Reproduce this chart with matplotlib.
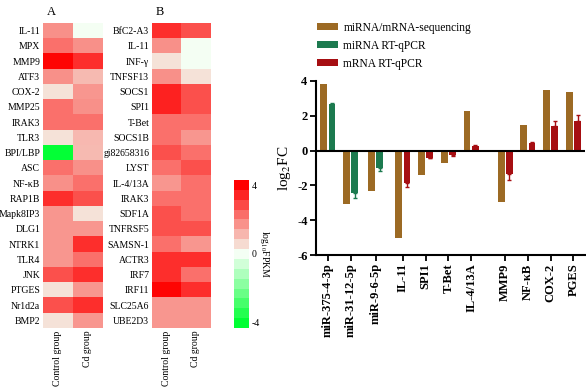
#import libraries
import matplotlib
matplotlib.use("Agg")
import matplotlib.pyplot as plt
from matplotlib.colors import LinearSegmentedColormap, Normalize
from matplotlib.cm import ScalarMappable
import numpy as np

plt.rcParams['font.family'] = ['Liberation Serif', 'DejaVu Serif']
plt.rcParams['mathtext.fontset'] = 'stix'

#heatmap data (log10 FPKM)
groups = ['Control group', 'Cd group']

genes_a = ['IL-11', 'MPX', 'MMP9', 'ATF3', 'COX-2', 'MMP25', 'IRAK3', 'TLR3',
           'BPI/LBP', 'ASC', 'NF-κB', 'RAP1B', 'Mapk8IP3', 'DLG1', 'NTRK1',
           'TLR4', 'JNK', 'PTGES', 'Nr1d2a', 'BMP2']
control_a = [1.87, 2.4, 4.2, 1.87, 0.5, 2.4, 2.4, 0.5, -4.2, 2.4,
             1.87, 3.5, 1.75, 1.75, 1.75, 1.75, 2.95, 0.5, 2.95, 0.5]
cd_a = [0.0, 1.87, 3.5, 1.15, 1.75, 1.87, 2.4, 1.2, 1.15, 1.87,
        2.4, 2.95, 0.5, 1.75, 3.5, 2.4, 3.5, 1.75, 3.5, 1.75]

genes_b = ['BfC2-A3', 'IL-11', 'INF-γ', 'TNFSF13', 'SOCS1', 'SPI1', 'T-Bet',
           'SOCS1B', 'gi82658316', 'LYST', 'IL-4/13A', 'IRAK3', 'SDF1A',
           'TNFRSF5', 'SAMSN-1', 'ACTR3', 'IRF7', 'IRF11', 'SLC25A6', 'UBE2D3']
control_b = [3.5, 1.87, 0.5, 1.87, 3.7, 3.7, 2.4, 2.4, 2.95, 2.4,
             1.75, 2.4, 2.95, 2.95, 2.4, 3.5, 3.5, 4.2, 1.75, 1.75]
cd_b = [2.95, 0.0, 0.0, 0.5, 2.95, 2.95, 2.4, 1.75, 2.4, 2.95,
        2.4, 2.4, 2.4, 2.95, 1.75, 3.5, 2.4, 3.5, 1.75, 1.75]

#bar chart data (log2 FC)
bar_labels = ['miR-375-4-3p', 'miR-31-12-5p', 'miR-9-6-5p', 'IL-11', 'SPI1',
              'T-Bet', 'IL-4/13A', 'MMP9', 'NF-κB', 'COX-2', 'PGES']
seq_fc = [3.8, -3.05, -2.35, -5.0, -1.4, -0.7, 2.25, -2.95, 1.45, 3.45, 3.35]
mirna_fc = [2.7, -2.45, -1.0]
mirna_err = [0.05, 0.3, 0.2]
mrna_fc = [-1.85, -0.4, -0.27, 0.28, -1.35, 0.45, 1.4, 1.67]
mrna_err = [0.22, 0.05, 0.04, 0.03, 0.35, 0.04, 0.28, 0.35]

#colours
brown = '#9C6A24'
green = '#1C7A4F'
red = '#A60E12'

cmap_colors = ['#00FF33', '#F4FFF4', '#FF0000']
cmap = LinearSegmentedColormap.from_list('gwr', cmap_colors, N=256)
cmap_steps = LinearSegmentedColormap.from_list('gwr15', cmap_colors, N=15)
norm = Normalize(vmin=-4.3, vmax=4.3)


#This function draws one heatmap panel
def heatmap(ax, genes, control, cd, title):
    data = np.column_stack([control, cd])
    ax.imshow(data, cmap=cmap, norm=norm, aspect='auto',
              interpolation='nearest')
    ax.set_yticks(np.arange(len(genes)))
    ax.set_yticklabels(genes, fontsize=7)
    ax.set_xticks(np.arange(len(groups)))
    ax.set_xticklabels(groups, rotation=90, fontsize=7)
    ax.tick_params(length=0, pad=2)
    for s in ax.spines.values():
        s.set_visible(False)
    ax.text(0.07, 1.015, title, transform=ax.transAxes, fontsize=9,
            ha='left', va='bottom')
#END


fig = plt.figure(figsize=(5.86, 3.87), dpi=100)

#panel A
ax_a = fig.add_axes([0.0734, 0.1525, 0.1007, 0.788])
heatmap(ax_a, genes_a, control_a, cd_a, 'A')

#panel B
ax_b = fig.add_axes([0.2594, 0.1525, 0.099, 0.788])
heatmap(ax_b, genes_b, control_b, cd_b, 'B')

#colorbar (stepped)
cax = fig.add_axes([0.3993, 0.1525, 0.0256, 0.3824])
cb = fig.colorbar(ScalarMappable(norm=norm, cmap=cmap_steps), cax=cax,
                  ticks=[-4, 0, 4])
cb.outline.set_visible(False)
cb.ax.set_yticklabels(['-4', '0', '4'], fontsize=7)
cb.ax.tick_params(length=0, pad=2)
cb.set_label('log$_{10}$FPKM', rotation=270, fontsize=7, labelpad=8)

#bar chart
ax = fig.add_axes([0.539, 0.341, 0.459, 0.45])
pos = np.array([0, 1, 2.1, 3.3, 4.3, 5.3, 6.3, 7.8, 8.8, 9.8, 10.8])
w = 0.3
off = 0.18

ax.bar(pos - off, seq_fc, w, color=brown, label='miRNA/mRNA-sequencing')

n_mi = len(mirna_fc)
yerr_mi = [[e if v < 0 else 0 for v, e in zip(mirna_fc, mirna_err)],
           [e if v > 0 else 0 for v, e in zip(mirna_fc, mirna_err)]]
ax.bar(pos[:n_mi] + off, mirna_fc, w, color=green, label='miRNA RT-qPCR',
       yerr=yerr_mi, error_kw=dict(ecolor=green, elinewidth=1, capsize=1.5))

yerr_m = [[e if v < 0 else 0 for v, e in zip(mrna_fc, mrna_err)],
          [e if v > 0 else 0 for v, e in zip(mrna_fc, mrna_err)]]
ax.bar(pos[n_mi:] + off, mrna_fc, w, color=red, label='mRNA RT-qPCR',
       yerr=yerr_m, error_kw=dict(ecolor=red, elinewidth=1, capsize=1.5))

ax.axhline(0, color='black', lw=1.5, zorder=3)
ax.set_ylim(-6, 4)
ax.set_xlim(-0.53, 11.3)
ax.set_yticks([-6, -4, -2, 0, 2, 4])
ax.set_yticklabels(['-6', '-4', '-2', '0', '2', '4'], fontsize=9,
                   fontweight='bold')
ax.set_xticks(pos)
ax.set_xticklabels(bar_labels, rotation=90, fontsize=9, fontweight='bold')
ax.tick_params(width=1.3, length=4, pad=2)
ax.spines['top'].set_visible(False)
ax.spines['right'].set_visible(False)
ax.spines['left'].set_linewidth(1.5)
ax.spines['bottom'].set_linewidth(1.5)
ax.set_ylabel('log$_2$FC', fontsize=11, labelpad=3)

#legend above the axes
fig.legend(loc='upper left', bbox_to_anchor=(0.523, 0.97), frameon=False,
           fontsize=8.3, handlelength=1.8, handleheight=0.55,
           labelspacing=0.5, handletextpad=0.5)

fig.savefig('out.png', dpi=100)
